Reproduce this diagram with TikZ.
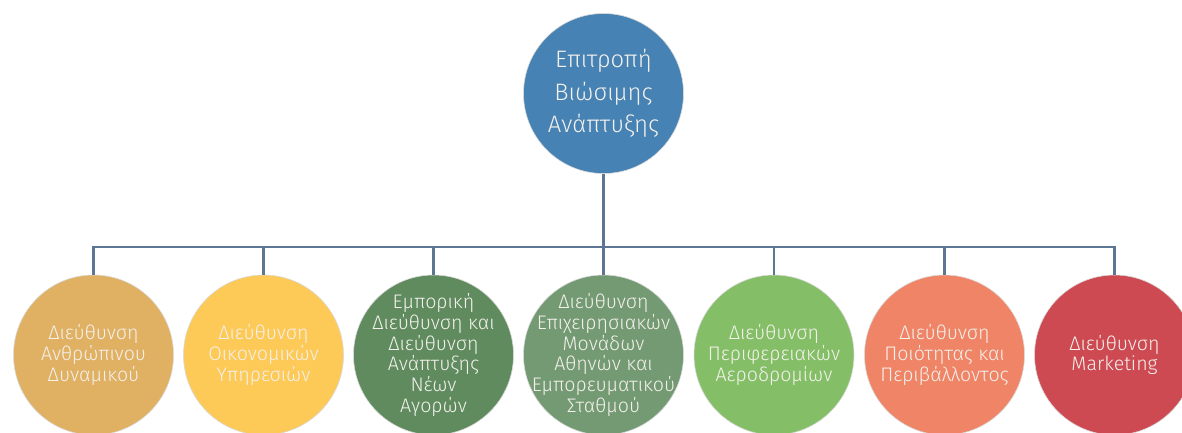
\documentclass[tikz,border=0pt]{standalone}
\usepackage{fontspec}
\setmainfont{Fira Sans Light}
\definecolor{linkc}{HTML}{5D7694}
\definecolor{topc}{HTML}{4682B3}
\definecolor{cA}{HTML}{E0B063}
\definecolor{cB}{HTML}{FDC957}
\definecolor{cC}{HTML}{5F8B5F}
\definecolor{cD}{HTML}{749A73}
\definecolor{cE}{HTML}{84BF67}
\definecolor{cF}{HTML}{EF8566}
\definecolor{cG}{HTML}{CE4A53}
\definecolor{txt}{HTML}{F4F1EC}
\tikzset{
  % negative inner sep keeps every circle at the fixed 160bp size
  unit/.style={circle, minimum size=160bp, inner sep=-20bp, draw=white!85!black,
    line width=0.6bp, text=txt, align=center},
  headunit/.style={unit, font=\fontsize{23.8bp}{32.4bp}\selectfont},
  subunit/.style={unit, font=\fontsize{19.6bp}{20.7bp}\selectfont},
  link/.style={draw=linkc, line width=2.6bp}
}
\begin{document}
\begin{tikzpicture}[x=1bp,y=-1bp]
\useasboundingbox (0,0) rectangle (1182,432);
\clip (0,0) rectangle (1182,432);
\node[headunit, fill=topc] (top) at (603.5,93.5) {Επιτροπή\\Βιώσιμης\\Ανάπτυξης};
\coordinate (hub) at (603.5,247);
\node[subunit, fill=cA] (d1) at (93.5,355) {Διεύθυνση\\Ανθρώπινου\\Δυναμικού};
\node[subunit, fill=cB] (d2) at (263.5,355) {Διεύθυνση\\Οικονομικών\\Υπηρεσιών};
\node[subunit, fill=cC] (d3) at (433.5,355) {Εμπορική\\Διεύθυνση και\\Διεύθυνση\\Ανάπτυξης\\Νέων\\Αγορών};
\node[subunit, fill=cD] (d4) at (603.5,355) {Διεύθυνση\\Επιχειρησιακών\\Μονάδων\\Αθηνών και\\Εμπορευματικού\\Σταθμού};
\node[subunit, fill=cE] (d5) at (774,355) {Διεύθυνση\\Περιφερειακών\\Αεροδρομίων};
\node[subunit, fill=cF] (d6) at (944.5,355) {Διεύθυνση\\Ποιότητας και\\Περιβάλλοντος};
\node[subunit, fill=cG] (d7) at (1114.5,355) {Διεύθυνση\\Marketing};
\draw[link] (top) -- (hub);
\foreach \k in {1,...,7} { \draw[link] (hub) -| (d\k); }
\end{tikzpicture}
\end{document}
